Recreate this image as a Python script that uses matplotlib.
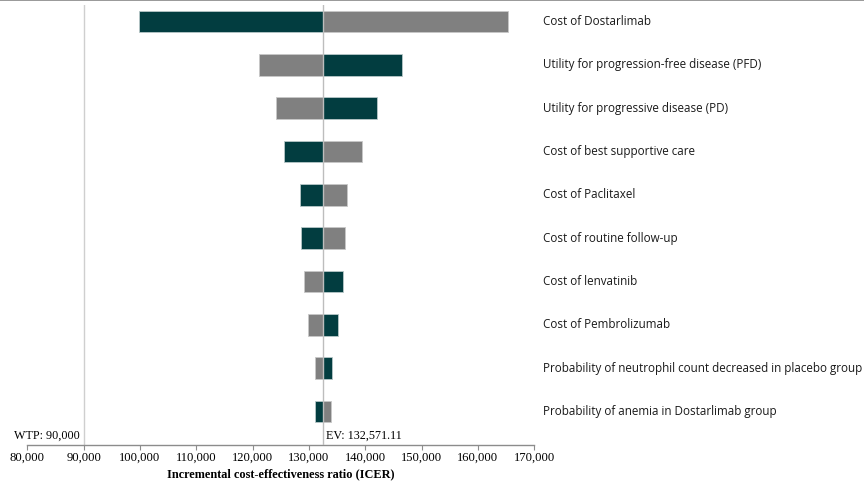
import matplotlib
matplotlib.use("Agg")
from matplotlib import pyplot as plt
from matplotlib import transforms
from matplotlib.lines import Line2D
from matplotlib.ticker import FuncFormatter

# tornado diagram data: ICER at the lower / upper bound of each parameter
params = [
    "Cost of Dostarlimab",
    "Utility for progression-free disease (PFD)",
    "Utility for progressive disease (PD)",
    "Cost of best supportive care",
    "Cost of Paclitaxel",
    "Cost of routine follow-up",
    "Cost of lenvatinib",
    "Cost of Pembrolizumab",
    "Probability of neutrophil count decreased in placebo group",
    "Probability of anemia in Dostarlimab group",
]
icer_low = [99850, 146470, 142020, 125590, 128360, 128660, 135990, 135230, 134160, 131140]
icer_high = [165360, 121080, 124170, 139440, 136700, 136470, 129070, 129900, 131020, 133980]

ev = 132571.11
wtp = 90000
xticks = list(range(80000, 170001, 10000))

dark = "#023d40"
grey = "#808080"
serif = ["Liberation Serif", "DejaVu Serif"]

fig = plt.figure(figsize=(8.64, 4.83), dpi=100)
ax = fig.add_axes([27.3 / 864, 1 - 445 / 483, 507 / 864, 440 / 483])

ypos = list(range(len(params)))
ax.barh(ypos, [v - ev for v in icer_low], left=ev, height=0.5,
        color=dark, edgecolor="#b8c8c8", linewidth=0.6, zorder=3)
ax.barh(ypos, [v - ev for v in icer_high], left=ev, height=0.5,
        color=grey, edgecolor="#c8c8c8", linewidth=0.6, zorder=3)

ax.axvline(wtp, color="#cfcfcf", lw=1.0, zorder=1)
ax.axvline(ev, color="#bdbdbd", lw=1.0, zorder=4)

ax.set_xlim(80000, 170000)
ax.set_ylim(9.77, -0.38)
ax.set_xticks(xticks)
ax.xaxis.set_major_formatter(FuncFormatter(lambda v, p: f"{int(v):,}"))
ax.set_yticks([])
for s in ["left", "right", "top"]:
    ax.spines[s].set_visible(False)
ax.spines["bottom"].set_color("#8c8c8c")
ax.spines["bottom"].set_linewidth(1.0)
ax.tick_params(axis="x", direction="out", length=3.5, width=0.8, color="#8c8c8c",
               pad=1.5, labelsize=9.1)
for t in ax.get_xticklabels():
    t.set_family(serif)

ax.set_xlabel("Incremental cost-effectiveness ratio (ICER)", family=serif,
              fontsize=8.8, fontweight="bold", labelpad=3)

# parameter names to the right of the plot
tr = transforms.blended_transform_factory(ax.transAxes, ax.transData)
for y, name in zip(ypos, params):
    ax.text(1.0166, y, name, transform=tr, ha="left", va="center",
            fontsize=8.4, family=["Open Sans", "DejaVu Sans"], color="#1a1a1a",
            clip_on=False)

ax.text(wtp - 700, 9.55, f"WTP: {wtp:,}", ha="right", va="center",
        family=serif, fontsize=8.7)
ax.text(ev + 500, 9.55, f"EV: {ev:,.2f}", ha="left", va="center",
        family=serif, fontsize=8.7)

# thin grey rule along the top edge of the figure
fig.add_artist(Line2D([0, 1], [0.999, 0.999], transform=fig.transFigure,
                      color="#888888", lw=1.2))

fig.savefig("out.png", dpi=100)
